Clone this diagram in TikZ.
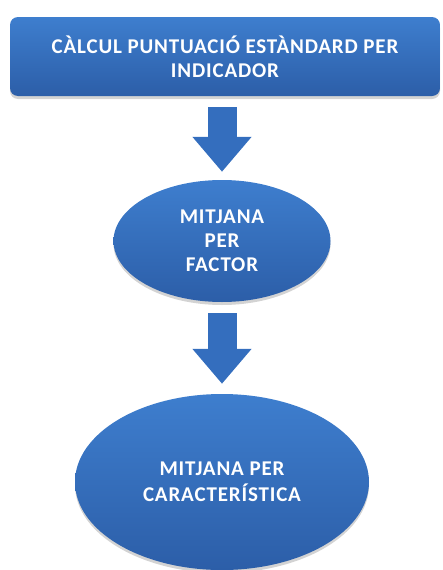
\documentclass[tikz,border=0pt]{standalone}
\usepackage{fontspec}
\setmainfont{Carlito}[LetterSpace=4]
\usepackage{xcolor}
\usepackage{tikz}
\usetikzlibrary{positioning,shadows,arrows.meta,shapes.geometric}
\definecolor{blutop}{RGB}{62,126,206}
\definecolor{blubot}{RGB}{44,94,168}
\definecolor{bluarr}{RGB}{52,110,190}

\begin{document}
\begin{tikzpicture}[every node/.style={text=white, font=\bfseries\fontsize{21}{24}\selectfont, align=center, inner sep=0pt},
  box/.style={rounded corners=8pt, top color=blutop, bottom color=blubot, minimum width=430pt, minimum height=79pt, drop shadow={shadow xshift=0pt, shadow yshift=-3pt, opacity=0.35}},
  blob/.style={ellipse, top color=blutop, bottom color=blubot, drop shadow={shadow xshift=0pt, shadow yshift=-3pt, opacity=0.35}},
  flow/.style={draw=bluarr, line width=29pt, -{Triangle[width=57pt, length=35pt]}}]
\useasboundingbox (0,0) rectangle (443pt,-570pt);
\node[box] (score) at (225pt,-56.5pt) {CÀLCUL PUNTUACIÓ ESTÀNDARD PER\\INDICADOR};
\node[blob, minimum width=217pt, minimum height=122pt] (factor) at (222pt,-241pt) {MITJANA\\PER\\FACTOR};
\node[blob, minimum width=294pt, minimum height=176pt, font=\bfseries\fontsize{21}{26}\selectfont] (trait) at (222pt,-482pt) {MITJANA PER\\CARACTERÍSTICA};
\draw[flow, shorten <=11pt, shorten >=8pt] (score.south -| factor.north) -- (factor.north);
\draw[flow, shorten <=11pt, shorten >=10pt] (factor.south) -- (trait.north);
\end{tikzpicture}
\end{document}
